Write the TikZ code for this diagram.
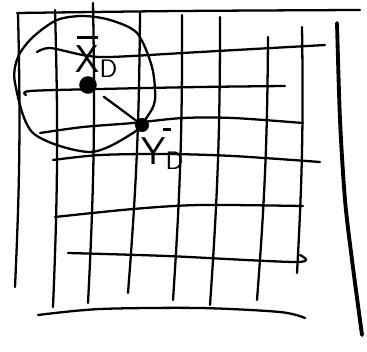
\documentclass[tikz,border=0pt]{standalone}
\usepackage{tikz}
\usetikzlibrary{positioning,calc}
\tikzset{
  pen/.style={line width=1.3pt,line cap=round,line join=round},
  thickpen/.style={line width=2.2pt,line cap=round,line join=round},
  blob/.style={circle,fill=black,inner sep=0pt,minimum size=#1},
  hand/.style={font=\sffamily\fontsize{22}{22}\selectfont,inner sep=0pt},
}
% hand-drawn bar: offset, width
\newcommand{\penbar}[2]{\rlap{\hspace{#1}\raisebox{19pt}{\rule{#2}{1.3pt}}}}
\begin{document}
\begin{tikzpicture}[x=0.02cm,y=-0.02cm]
  \useasboundingbox (0,0) rectangle (367,351);
  % ---------- horizontal strokes ----------
  \draw[pen] plot[smooth] coordinates {(17,13) (180,11) (360,10)};
  \draw[pen] plot[smooth] coordinates {(37,52) (50,48) (83,55) (110,57) (200,52) (325,45)};
  \draw[pen] plot[smooth] coordinates {(26,95) (30,91) (100,89) (200,87) (285,86)};
  \draw[pen] plot[smooth] coordinates {(40,133) (83,127) (133,123) (183,118) (233,118) (303,123)};
  \draw[pen] plot[smooth] coordinates {(53,160) (100,155) (167,154) (233,156) (320,162)};
  \draw[pen] plot[smooth] coordinates {(55,217) (133,209) (200,205) (303,206)};
  \draw[pen] plot[smooth] coordinates {(68,253) (167,256) (297,262) (300,255)};
  \draw[pen] plot[smooth] coordinates {(38,315) (100,309) (200,308) (280,312) (305,318)};
  % ---------- vertical strokes ----------
  \foreach \xa/\ya/\xb/\yb in {18/13/15/287, 55/10/53/307, 93/3/88/303, 140/13/128/293,
                               182/15/173/300, 220/17/210/305, 268/37/257/300, 302/27/297/273}{
    \draw[pen] (\xa,\ya) to[bend left=2] (\xb,\yb);}
  \draw[thickpen] plot[smooth] coordinates {(337,23) (340,120) (345,200) (352,260) (362,335)};
  % ---------- neighbourhood ----------
  \draw[pen] plot[smooth cycle] coordinates {(57,20) (83,16) (110,20) (137,33) (152,67) (155,100)
                                             (147,117) (133,133) (90,152) (33,133) (15,83)
                                             (18,57) (33,37)};
  \node[blob=10pt] (xd) at (88,85) {};
  \node[blob=8pt] (yd) at (142,125) {};
  \draw[pen,shorten <=6pt] (xd) -- (yd);
  \node[hand] (xlbl) at (97,57) {\penbar{1pt}{12pt}X$_{\mathsf{D}}$};
  \node[hand] (ylbl) at (163,149) {\penbar{12pt}{5pt}Y$_{\mathsf{D}}$};
\end{tikzpicture}
\end{document}
